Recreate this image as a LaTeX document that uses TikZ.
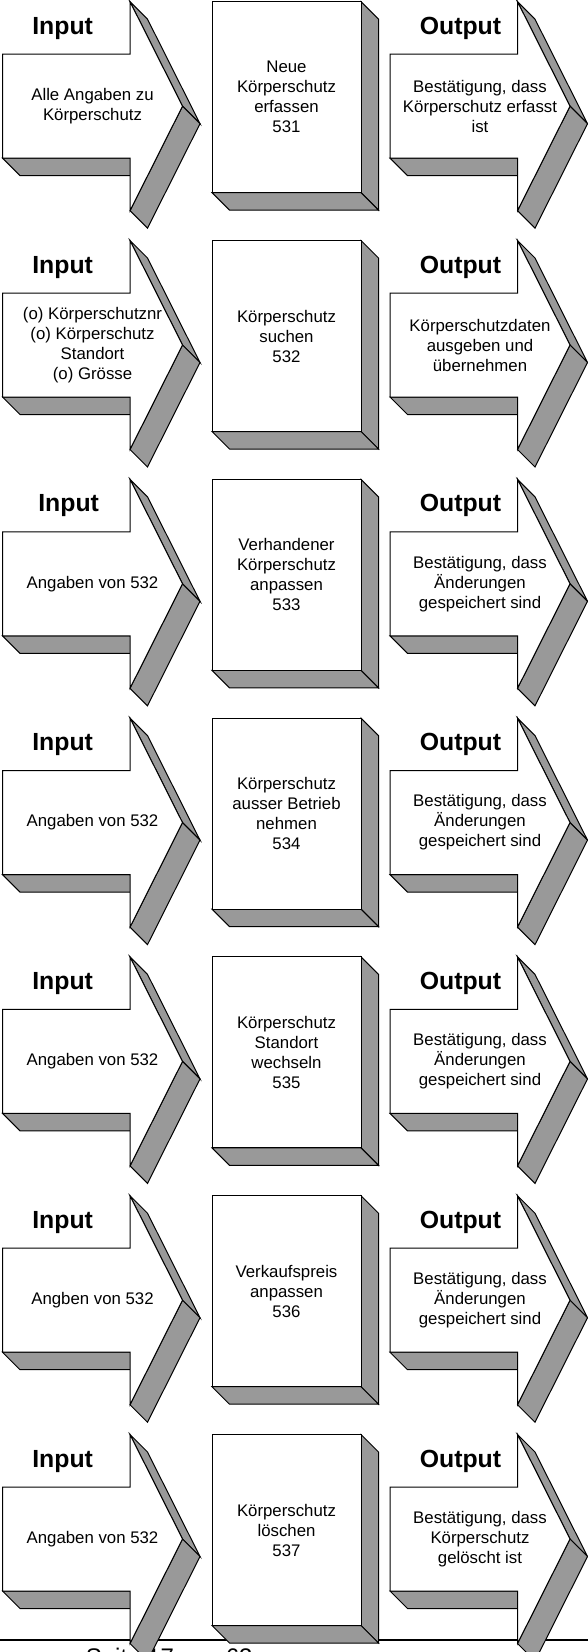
\documentclass[tikz,border=0pt]{standalone}
\usepackage{fontspec}
\setmainfont{Liberation Sans}
\usepackage{tikz}
\definecolor{sidegray}{RGB}{153,153,153}

\begin{document}
\begin{tikzpicture}[
    x=1pt, y=-1pt,
    line width=1pt,
    side/.style={
        draw,
        fill=sidegray
    },
    front/.style={
        draw,
        fill=white
    },
    heading/.style={
        anchor=base west,
        font=\fontsize{24.8}{29}\selectfont\bfseries
    },
    txt/.style={
        align=center,
        font=\fontsize{16.8}{20}\selectfont
    },
    flowarrow/.pic={
        \draw[side] (0,156.5) -- (127.5,156.5) -- (145,174) -- (17.5,174) -- cycle;
        \draw[side] (127.5,0) -- (180,104.5) -- (197.5,122) -- (145,17.5) -- cycle;
        \draw[side] (180,104.5) -- (127.5,209) -- (145,226.5) -- (197.5,122) -- cycle;
        \draw[front] (0,52.5) -- (127.5,52.5) -- (127.5,0) -- (180,104.5)
            -- (127.5,209) -- (127.5,156.5) -- (0,156.5) -- cycle;
        \coordinate (-head) at (26,32.6);
        \coordinate (-mid) at (90,104.5);
    },
    procbox/.pic={
        \draw[side] (149,0) -- (166.5,17.5) -- (166.5,208.5) -- (149,191) -- cycle;
        \draw[side] (0,191) -- (149,191) -- (166.5,208.5) -- (17.5,208.5) -- cycle;
        \draw[front] (0,0) rectangle (149,191);
        \coordinate (-mid) at (74.5,95.5);
    }
]

\useasboundingbox (0,0) rectangle (588,1652);
\clip (0,0) rectangle (588,1652);

\coordinate (ruleL) at (0,1640.3);
\coordinate (ruleR) at (588,1640.3);
\draw[line width=2pt] (ruleL) -- (ruleR);
\node[anchor=base west, font=\fontsize{24}{28}\selectfont] (footer) at (82,1665) {Seite 17 von 63};

\pic (in1) at (2.5,1.7) {flowarrow};
\pic (proc1) at (212,1.7) {procbox};
\pic (out1) at (390,1.7) {flowarrow};
\node[heading] (inhead1) at (in1-head) {Input};
\node[heading] (outhead1) at (out1-head) {Output};
\node[txt] (intext1) at (in1-mid) {Alle Angaben zu\\Körperschutz};
\node[txt] (proctext1) at (proc1-mid) {Neue\\Körperschutz\\erfassen\\531};
\node[txt] (outtext1) at (out1-mid) {Bestätigung, dass\\Körperschutz erfasst\\ist};

\pic (in2) at (2.5,240.5) {flowarrow};
\pic (proc2) at (212,240.5) {procbox};
\pic (out2) at (390,240.5) {flowarrow};
\node[heading] (inhead2) at (in2-head) {Input};
\node[heading] (outhead2) at (out2-head) {Output};
\node[txt] (intext2) at (in2-mid) {(o) Körperschutznr\\(o) Körperschutz\\Standort\\(o) Grösse};
\node[txt] (proctext2) at (proc2-mid) {Körperschutz\\suchen\\532};
\node[txt] (outtext2) at (out2-mid) {Körperschutzdaten\\ausgeben und\\übernehmen};

\pic (in3) at (2.5,479.3) {flowarrow};
\pic (proc3) at (212,479.3) {procbox};
\pic (out3) at (390,479.3) {flowarrow};
\node[heading, xshift=6pt] (inhead3) at (in3-head) {Input};
\node[heading] (outhead3) at (out3-head) {Output};
\node[txt] (intext3) at (in3-mid) {Angaben von 532};
\node[txt] (proctext3) at (proc3-mid) {Verhandener\\Körperschutz\\anpassen\\533};
\node[txt] (outtext3) at (out3-mid) {Bestätigung, dass\\Änderungen\\gespeichert sind};

\pic (in4) at (2.5,718.1) {flowarrow};
\pic (proc4) at (212,718.1) {procbox};
\pic (out4) at (390,718.1) {flowarrow};
\node[heading] (inhead4) at (in4-head) {Input};
\node[heading] (outhead4) at (out4-head) {Output};
\node[txt] (intext4) at (in4-mid) {Angaben von 532};
\node[txt] (proctext4) at (proc4-mid) {Körperschutz\\ausser Betrieb\\nehmen\\534};
\node[txt] (outtext4) at (out4-mid) {Bestätigung, dass\\Änderungen\\gespeichert sind};

\pic (in5) at (2.5,956.9) {flowarrow};
\pic (proc5) at (212,956.9) {procbox};
\pic (out5) at (390,956.9) {flowarrow};
\node[heading] (inhead5) at (in5-head) {Input};
\node[heading] (outhead5) at (out5-head) {Output};
\node[txt] (intext5) at (in5-mid) {Angaben von 532};
\node[txt] (proctext5) at (proc5-mid) {Körperschutz\\Standort\\wechseln\\535};
\node[txt] (outtext5) at (out5-mid) {Bestätigung, dass\\Änderungen\\gespeichert sind};

\pic (in6) at (2.5,1195.7) {flowarrow};
\pic (proc6) at (212,1195.7) {procbox};
\pic (out6) at (390,1195.7) {flowarrow};
\node[heading] (inhead6) at (in6-head) {Input};
\node[heading] (outhead6) at (out6-head) {Output};
\node[txt] (intext6) at (in6-mid) {Angben von 532};
\node[txt] (proctext6) at (proc6-mid) {Verkaufspreis\\anpassen\\536};
\node[txt] (outtext6) at (out6-mid) {Bestätigung, dass\\Änderungen\\gespeichert sind};

\pic (in7) at (2.5,1434.5) {flowarrow};
\pic (proc7) at (212,1434.5) {procbox};
\pic (out7) at (390,1434.5) {flowarrow};
\node[heading] (inhead7) at (in7-head) {Input};
\node[heading] (outhead7) at (out7-head) {Output};
\node[txt] (intext7) at (in7-mid) {Angaben von 532};
\node[txt] (proctext7) at (proc7-mid) {Körperschutz\\löschen\\537};
\node[txt] (outtext7) at (out7-mid) {Bestätigung, dass\\Körperschutz\\gelöscht ist};

\end{tikzpicture}
\end{document}
